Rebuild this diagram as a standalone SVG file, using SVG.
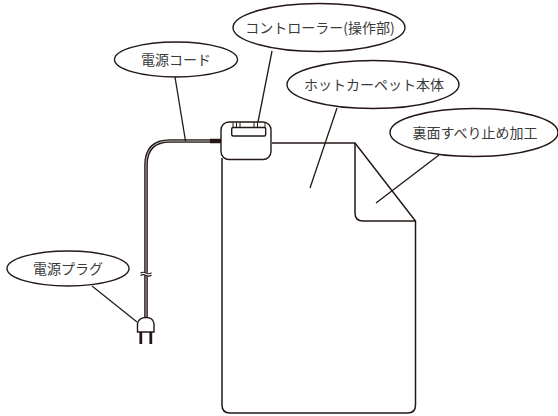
<svg xmlns="http://www.w3.org/2000/svg" width="558" height="416" viewBox="0 0 558 416">
<style>
.o{fill:#fff;stroke:#231815;stroke-width:1.4}
.l{fill:none;stroke:#231815;stroke-width:1.3}
.t{font-family:"Noto Sans CJK JP","Noto Sans",sans-serif;font-size:14px;fill:#3a3a3a;text-anchor:middle}
</style>
<rect width="558" height="416" fill="#fff"/>
<g id="carpet">
<path class="l" style="stroke-width:1.5" d="M272 143H355L415.500 221V405Q415.500 413 407.500 413H230Q222 413 222 405V158"/>
<path class="l" style="stroke-width:1.5" d="M355 143V213Q355 221 363 221H415.500"/>
</g>
<g id="cord">
<path fill="none" stroke="#231815" stroke-width="3.600" d="M212 141H170Q146 141 146 165V318"/>
<path fill="none" stroke="#fff" stroke-width="0.700" d="M210 141H170Q146 141 146 165V318"/>
<path fill="none" stroke="#231815" stroke-width="4.500" d="M210 141H221"/>
<path fill="#fff" stroke="none" d="M140 272.800H152V275.200H140Z"/>
<path class="l" style="stroke-width:1.100" d="M140.500 273.200Q143 271.400 146 273T151.500 272.600M140.500 275.600Q143 273.800 146 275.400T151.500 275"/>
</g>
<g id="plug">
<path class="o" d="M137.500 332V323.500Q139 317.500 146 317.500Q153 317.500 154 323.500V332Z"/>
<path fill="none" stroke="#231815" stroke-width="2.800" d="M140.800 332V344M150.800 332V344"/>
</g>
<g id="controller">
<rect class="o" x="221" y="122" width="50" height="37.500" rx="8"/>
<rect class="o" x="231.700" y="127.500" width="34" height="8.500" rx="1.500"/>
<path class="l" style="stroke-width:1" d="M233 127.500V122.500M236.500 127.500V122.500M240 127.500V122.500M254 127.500V122.500M257.500 127.500V122.500M265 127.500V122.500"/>
</g>
<g id="connectors">
<path class="l" d="M175 77L185.500 141"/>
<path class="l" d="M272 51L258 122"/>
<path class="l" d="M337 108L310 188"/>
<path class="l" d="M439 155L376 203"/>
<path class="l" d="M92 286L137 322"/>
</g>
<g id="label-controller"><ellipse class="o" cx="319" cy="27.500" rx="86" ry="24"/><text class="t" x="320" y="33">コントローラー(操作部)</text></g>
<g id="label-carpet"><ellipse class="o" cx="373" cy="84.500" rx="86" ry="24"/><text class="t" x="374" y="90">ホットカーペット本体</text></g>
<g id="label-back"><ellipse class="o" cx="474" cy="132.500" rx="84" ry="24"/><text class="t" x="475" y="138">裏面すべり止め加工</text></g>
<g id="label-cord"><ellipse class="o" cx="176" cy="59.500" rx="61.500" ry="17.500"/><text class="t" x="176" y="65">電源コード</text></g>
<g id="label-plug"><ellipse class="o" cx="68" cy="268.500" rx="61" ry="17.500"/><text class="t" x="68" y="274">電源プラグ</text></g>
</svg>
